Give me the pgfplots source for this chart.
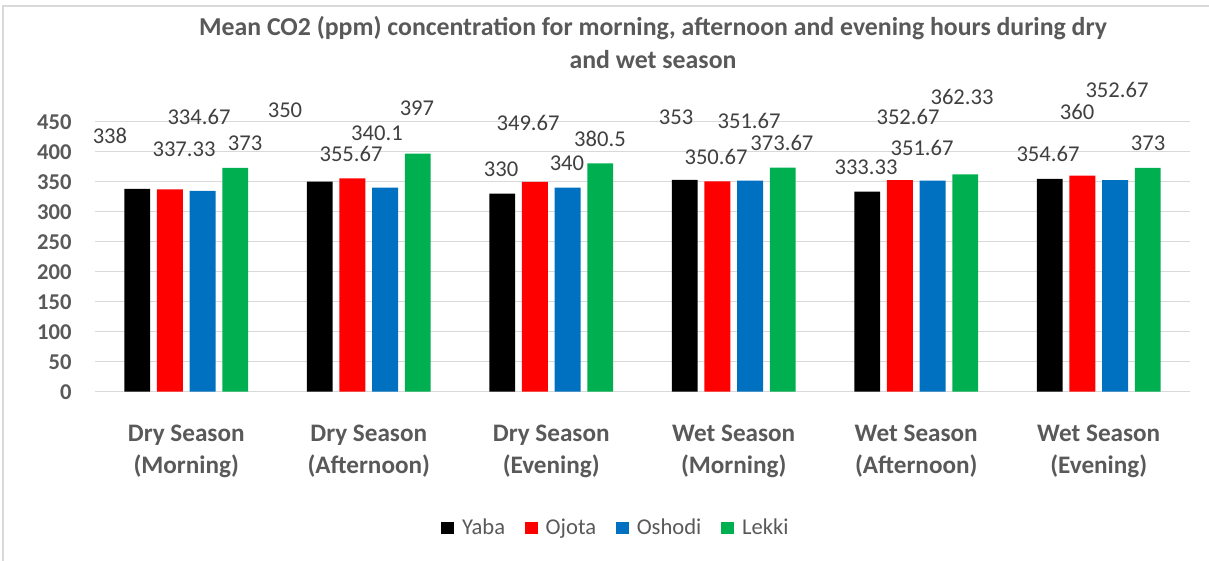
\documentclass[border=0pt]{standalone}
\usepackage{pgfplots}
\pgfplotsset{compat=1.18}
\usepackage{fontspec}
\setmainfont{Carlito}
\definecolor{cgray}{HTML}{595959}
\definecolor{lgray}{HTML}{404040}
\definecolor{gridc}{HTML}{D9D9D9}
\definecolor{cred}{HTML}{FF0000}
\definecolor{cblue}{HTML}{0070C0}
\definecolor{cgreen}{HTML}{00B050}

\pgfplotstableread{
x y label
-0.418 426 338
-0.012 404 337.33
0.070 458 334.67
0.322 414 373
0.541 469 350
0.903 396 355.67
1.045 430 340.1
1.264 473 397
1.725 371 330
1.873 448 349.67
2.086 381 340
2.267 421 380.5
2.684 458 353
2.903 391 350.67
3.084 451 351.67
3.264 414 373.67
3.725 374 333.33
3.955 458 352.67
4.032 406 351.67
4.251 491 362.33
4.722 396 354.67
4.881 466 360
5.100 503 352.67
5.270 414 373
}\labeltable

\begin{document}
\begin{tikzpicture}
\path[use as bounding box] (-47.5pt,-84.65pt) rectangle (557pt,195.85pt);
\draw[gridc, line width=0.8pt] (-46pt,-84.65pt) -- (-46pt,192.85pt) -- (557pt,192.85pt);
\begin{axis}[
  at={(0pt,0pt)}, anchor=south west,
  scale only axis, width=547.5pt, height=135pt,
  xmin=-0.5, xmax=5.5, ymin=0, ymax=450,
  ybar, bar width=0.142,
  axis line style={draw=none},
  ymajorgrids, grid style={gridc, line width=0.75pt},
  ytick={0,50,...,450},
  xtick={0,...,5},
  xticklabels={{Dry Season\\(Morning)},{Dry Season\\(Afternoon)},{Dry Season\\(Evening)},{Wet Season\\(Morning)},{Wet Season\\(Afternoon)},{Wet Season\\(Evening)}},
  major tick length=0pt,
  /pgf/number format/assume math mode=true,
  yticklabel style={font=\fontsize{11.3}{13}\selectfont\bfseries, text=cgray, inner sep=0pt, anchor=east, xshift=-11.5pt},
  xticklabel style={font=\fontsize{12.6}{16}\selectfont\bfseries, text=cgray, align=center, inner sep=0pt, anchor=center, yshift=-29.65pt},
  title={Mean CO2 (ppm) concentration for morning, afternoon and evening hours during dry\\and wet season},
  title style={font=\fontsize{12.9}{16.5}\selectfont\bfseries, text=cgray, align=center, at={(axis description cs:0.5096,1.2878)}, anchor=center, yshift=-5.5pt},
  legend style={at={(axis description cs:0.4767,-0.505)}, anchor=center, draw=none, fill=none, legend columns=-1, font=\fontsize{11.3}{13}\selectfont, text=cgray, /tikz/every odd column/.append style={column sep=2pt}, /tikz/every even column/.append style={column sep=8pt}},
  legend image code/.code={\fill[#1] (0pt,-3.15pt) rectangle (6.3pt,3.15pt);},
]
\addplot[fill=black, draw=none, bar shift=-0.2685] coordinates {(0,338) (1,350) (2,330) (3,353) (4,333.33) (5,354.67)};
\addplot[fill=cred, draw=none, bar shift=-0.0895] coordinates {(0,337.33) (1,355.67) (2,349.67) (3,350.67) (4,352.67) (5,360)};
\addplot[fill=cblue, draw=none, bar shift=0.0895] coordinates {(0,334.67) (1,340.1) (2,340) (3,351.67) (4,351.67) (5,352.67)};
\addplot[fill=cgreen, draw=none, bar shift=0.2685] coordinates {(0,373) (1,397) (2,380.5) (3,373.67) (4,362.33) (5,373)};
\legend{Yaba,Ojota,Oshodi,Lekki}
\end{axis}
\begin{axis}[
  at={(0pt,0pt)}, anchor=south west,
  scale only axis, width=547.5pt, height=135pt,
  xmin=-0.5, xmax=5.5, ymin=0, ymax=450,
  hide axis, clip=false,
]
\addplot[draw=none, mark=none, nodes near coords, point meta=explicit symbolic,
  nodes near coords style={anchor=center, inner sep=0pt, font=\fontsize{11.3}{13}\selectfont, text=lgray}]
  table[x=x, y=y, meta=label] {\labeltable};
\end{axis}
\end{tikzpicture}
\end{document}
